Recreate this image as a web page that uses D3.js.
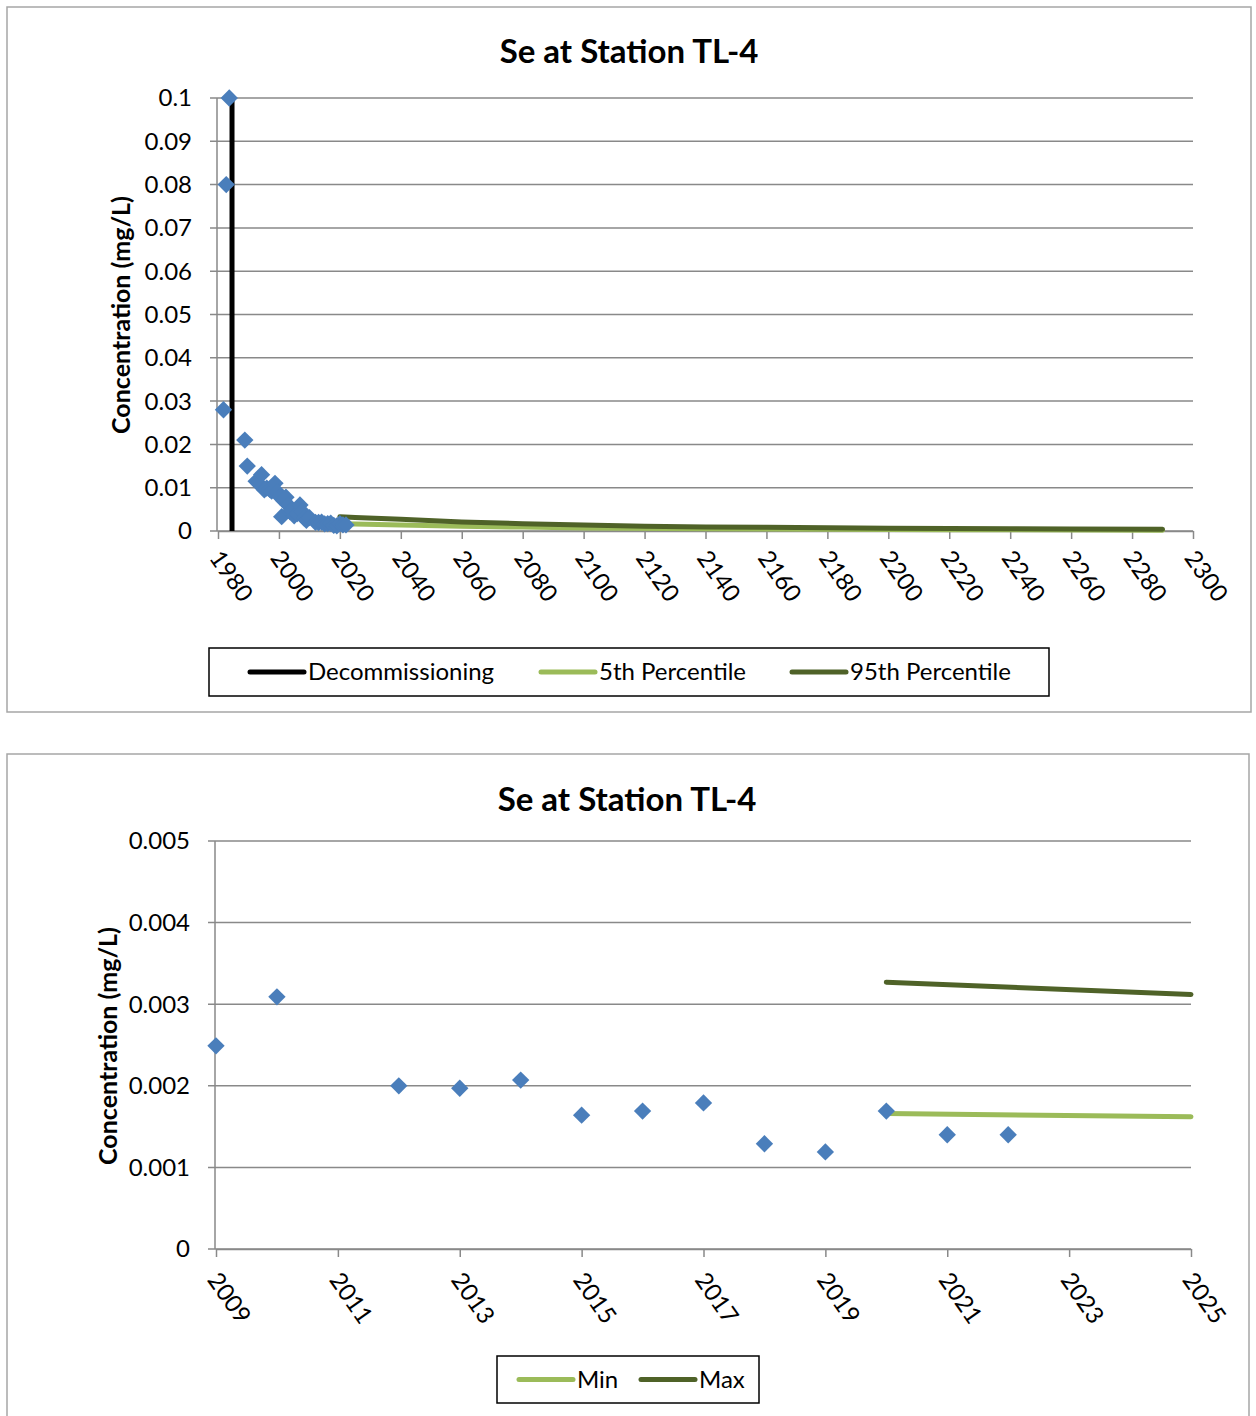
<!DOCTYPE html>
<html><head><meta charset="utf-8">
<script src="https://cdn.jsdelivr.net/npm/d3@7"></script>
<style>
body{margin:0;background:#fff;}
svg text{font-family:Lato,"Open Sans",sans-serif;fill:#000;}
</style></head>
<body><svg id="c" width="1256" height="1416"></svg>
<script>
// ---------- DATA ----------
const chartTitle = "Se at Station TL-4";
const yAxisTitle = "Concentration (mg/L)";
// Top chart: full record of observations (year, mg/L)
const earlyYears  = [1981.8,1982.7,1983.7,1988.8,1989.6,1992.5,1993.3,1994.3,1995.2,1996.0,1997.0,1997.6,1998.7,1999.5,2000.3,2000.9,2001.6,2002.3,2003.0,2003.6,2004.2,2005.0,2006.0,2006.9,2007.6,2008.3];
const earlyValues = [0.028,0.08,0.1,0.021,0.015,0.0115,0.011,0.013,0.0095,0.0099,0.0096,0.0092,0.011,0.009,0.0079,0.0033,0.007,0.0078,0.006,0.0045,0.0048,0.0035,0.004,0.006,0.0045,0.003];
// Recent observations (shown in both charts)
const recentYears  = [2009,2010,2012,2013,2014,2015,2016,2017,2018,2019,2020,2021,2022];
const recentValues = [0.00249,0.00309,0.0020,0.00197,0.00207,0.00164,0.00169,0.00179,0.00129,0.00119,0.00169,0.0014,0.0014];
// Decommissioning marker
const decommissioningYear = 1984.6;
// Top chart projections
const p95Years  = [2020,2025,2040,2060,2080,2100,2120,2140,2160,2180,2200,2220,2240,2260,2290];
const p95Values = [0.0033,0.0031,0.0027,0.0021,0.0017,0.0014,0.0011,0.00095,0.00085,0.00075,0.00065,0.00055,0.0005,0.00045,0.0004];
const p5Years   = [2020,2025,2040,2060,2080,2100,2140,2180,2220,2290];
const p5Values  = [0.00167,0.00162,0.0014,0.0011,0.0009,0.0007,0.0005,0.0004,0.0003,0.0002];
// Bottom chart projections
const minYears  = [2020,2025];
const minValues = [0.00166,0.00162];
const maxYears  = [2020,2025];
const maxValues = [0.00327,0.00312];
// Ticks
const topXTicks = [1980,2000,2020,2040,2060,2080,2100,2120,2140,2160,2180,2200,2220,2240,2260,2280,2300];
const topYTicks = [0,0.01,0.02,0.03,0.04,0.05,0.06,0.07,0.08,0.09,0.1];
const topYLabels = ["0","0.01","0.02","0.03","0.04","0.05","0.06","0.07","0.08","0.09","0.1"];
const botXTicks = [2009,2011,2013,2015,2017,2019,2021,2023,2025];
const botYTicks = [0,0.001,0.002,0.003,0.004,0.005];
const botYLabels = ["0","0.001","0.002","0.003","0.004","0.005"];
const topLegend = ["Decommissioning","5th Percentile","95th Percentile"];
const botLegend = ["Min","Max"];

// ---------- STYLE ----------
const C = {blue:"#4A7EBB", light:"#9BBB59", dark:"#4F6228", black:"#000", grid:"#898989", frame:"#a6a6a6"};
const FS = 24;
const svg = d3.select("#c");

function diamond(g, xs, ys, x, y){
  const sym = d3.symbol().type(d3.symbolSquare).size(150);
  g.selectAll(null).data(xs.map((d,i)=>[d,ys[i]])).join("path")
   .attr("d", sym)
   .attr("transform", d=>`translate(${x(d[0])},${y(d[1])}) rotate(45)`)
   .attr("fill", C.blue);
}
function line(g, xs, ys, x, y, color, w){
  g.append("path").datum(xs.map((d,i)=>[d,ys[i]]))
   .attr("d", d3.line().x(d=>x(d[0])).y(d=>y(d[1])))
   .attr("fill","none").attr("stroke",color).attr("stroke-width",w).attr("stroke-linecap","round");
}
function frame(x0,y0,x1,y1){
  svg.append("rect").attr("x",x0).attr("y",y0).attr("width",x1-x0).attr("height",y1-y0)
    .attr("fill","none").attr("stroke",C.frame).attr("stroke-width",1.5);
}
function axes(g, x, y, xt, yt, yl, xRot){
  const [x0,x1] = x.range(), [yb,yt0] = y.range();
  g.selectAll(null).data(yt).join("line")
    .attr("x1", x0-8).attr("x2", x1).attr("y1", d=>y(d)).attr("y2", d=>y(d))
    .attr("stroke", C.grid).attr("stroke-width",1.5);
  g.append("line").attr("x1",x0-1).attr("x2",x0-1).attr("y1",yt0).attr("y2",yb)
    .attr("stroke",C.grid).attr("stroke-width",1.5);
  g.selectAll(null).data(yt).join("text")
    .attr("x", x0-26).attr("y", d=>y(d)).attr("dy","0.35em")
    .attr("text-anchor","end").attr("font-size",FS).text((d,i)=>yl[i]);
  const ax = g.append("g").attr("transform",`translate(0,${yb})`)
    .call(d3.axisBottom(x).tickValues(xt).tickSize(8).tickSizeOuter(0).tickFormat(d3.format("d")));
  ax.select(".domain").attr("stroke",C.grid).attr("stroke-width",1.5);
  ax.selectAll(".tick line").attr("stroke",C.grid).attr("stroke-width",1.5);
  ax.selectAll(".tick text").attr("font-size",FS).attr("font-family","Lato").attr("fill","#000")
    .attr("text-anchor","start").attr("y",0).attr("dy",0)
    .attr("transform",`translate(-10,${xRot}) rotate(55)`);
}
function legend(g, x0, y0, x1, y1, items){
  g.append("rect").attr("x",x0).attr("y",y0).attr("width",x1-x0).attr("height",y1-y0)
    .attr("fill","#fff").attr("stroke","#000").attr("stroke-width",1.5);
  const cy = (y0+y1)/2;
  items.forEach(it=>{
    g.append("line").attr("x1",it.lx).attr("x2",it.lx+54).attr("y1",cy).attr("y2",cy)
      .attr("stroke",it.color).attr("stroke-width",5).attr("stroke-linecap","round");
    g.append("text").attr("x",it.lx+58).attr("y",cy).attr("dy","0.35em").attr("font-size",FS).text(it.label);
  });
}

// ---------- TOP CHART ----------
frame(7,7,1251,712);
const gt = svg.append("g");
const xT = d3.scaleLinear().domain([1980,2300]).range([218,1193]);
const yT = d3.scaleLinear().domain([0,0.1]).range([531,98]);
gt.append("text").attr("x",629).attr("y",51).attr("dy","0.35em").attr("text-anchor","middle")
  .attr("font-size",33).attr("font-weight","bold").text(chartTitle);
gt.append("text").attr("transform","translate(121,315) rotate(-90)").attr("dy","0.35em")
  .attr("text-anchor","middle").attr("font-size",25).attr("font-weight","bold").text(yAxisTitle);
axes(gt, xT, yT, topXTicks, topYTicks, topYLabels, 27);
line(gt, p5Years, p5Values, xT, yT, C.light, 5);
line(gt, p95Years, p95Values, xT, yT, C.dark, 5);
gt.append("line").attr("x1",xT(decommissioningYear)).attr("x2",xT(decommissioningYear))
  .attr("y1",yT(0.1)).attr("y2",yT(0)).attr("stroke",C.black).attr("stroke-width",5);
diamond(gt, earlyYears.concat(recentYears), earlyValues.concat(recentValues), xT, yT);
legend(gt, 209, 648, 1049, 696, [
  {lx:250, color:C.black, label:topLegend[0]},
  {lx:541, color:C.light, label:topLegend[1]},
  {lx:792, color:C.dark, label:topLegend[2]}]);

// ---------- BOTTOM CHART ----------
frame(7,754,1249,1430);
const gb = svg.append("g");
const xB = d3.scaleLinear().domain([2009,2025]).range([216,1191]);
const yB = d3.scaleLinear().domain([0,0.005]).range([1249,841]);
gb.append("text").attr("x",627).attr("y",799).attr("dy","0.35em").attr("text-anchor","middle")
  .attr("font-size",33).attr("font-weight","bold").text(chartTitle);
gb.append("text").attr("transform","translate(108,1046) rotate(-90)").attr("dy","0.35em")
  .attr("text-anchor","middle").attr("font-size",25).attr("font-weight","bold").text(yAxisTitle);
axes(gb, xB, yB, botXTicks, botYTicks, botYLabels, 31);
line(gb, minYears, minValues, xB, yB, C.light, 5);
line(gb, maxYears, maxValues, xB, yB, C.dark, 5);
diamond(gb, recentYears, recentValues, xB, yB);
legend(gb, 497, 1356, 759, 1403, [
  {lx:519, color:C.light, label:botLegend[0]},
  {lx:641, color:C.dark, label:botLegend[1]}]);
</script></body></html>
